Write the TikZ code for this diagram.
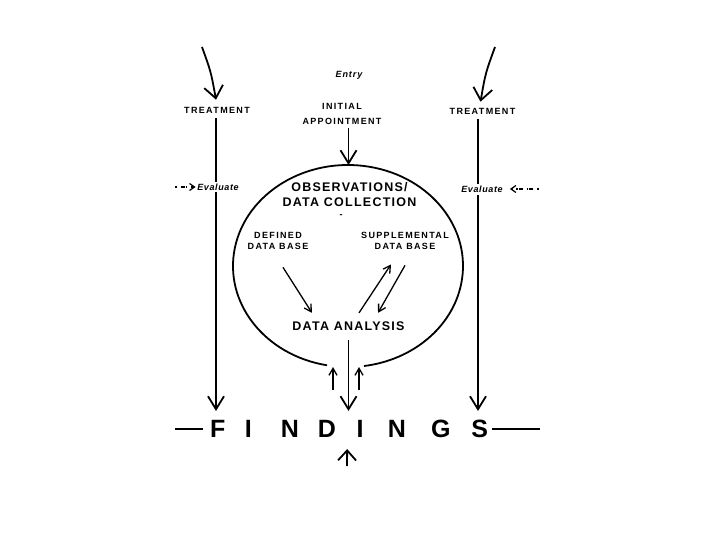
\documentclass[tikz,border=0pt]{standalone}
\usepackage{fontspec}
\setmainfont{Liberation Sans}
\newfontfamily\lsWide[LetterSpace=15]{Liberation Sans}
\newfontfamily\lsMid[LetterSpace=10]{Liberation Sans}
\newfontfamily\lsNarrow[LetterSpace=7]{Liberation Sans}
\usetikzlibrary{arrows.meta,calc}
\tikzset{
  lblsmall/.style={font=\lsWide\bfseries\fontsize{9}{11}\selectfont, align=center, inner sep=1pt},
  lblbig/.style={font=\lsMid\bfseries\fontsize{12.5}{15}\selectfont, align=center, inner sep=1pt},
  lblital/.style={font=\lsNarrow\bfseries\itshape\fontsize{9}{10}\selectfont, inner sep=2pt, fill=white},
  mainln/.style={line width=1.8pt},
  thinln/.style={line width=1.3pt},
  barbM/.style={-{Straight Barb[length=13pt,width=16pt]}},
  barbL/.style={-{Straight Barb[length=12pt,width=19pt]}},
  barbS/.style={-{Straight Barb[length=7pt,width=8pt]}},
  barbB/.style={-{Straight Barb[length=10pt,width=18pt]}},
  dotarrow/.style={line width=1.2pt, dash pattern=on 1.5pt off 4pt on 4pt off 1pt, -{Straight Barb[length=5pt,width=7pt]}},
}
\begin{document}
\begin{tikzpicture}[x=1pt,y=-1pt]
\useasboundingbox[fill=white] (0,0) rectangle (720,540);

% texts
\node[font=\lsMid\bfseries\itshape\fontsize{9}{11}\selectfont, inner sep=1pt] (entry) at (349,75.5) {Entry};
\node[lblsmall, font=\lsWide\bfseries\fontsize{9}{15}\selectfont] (init) at (342,113.5) {INITIAL\\APPOINTMENT};
\node[lblsmall] (treatL) at (217,110) {TREATMENT};
\node[lblsmall] (treatR) at (482.5,111) {TREATMENT};
\node[lblbig] (obs) at (349.5,195) {OBSERVATIONS/\\DATA COLLECTION};
\node[lblsmall] (dash) at (341,216) {-};
\node[lblsmall] (def) at (278,241) {DEFINED\\DATA BASE};
\node[lblsmall] (supp) at (405,241) {SUPPLEMENTAL\\DATA BASE};
\node[lblbig] (ana) at (348.5,326.5) {DATA ANALYSIS};
\node[font=\bfseries\fontsize{25}{25}\selectfont, inner sep=0pt, anchor=west] (fnd) at (210,429)
  {F\kern19.5pt I\kern29pt N\kern19pt D\kern20.5pt I\kern24.5pt N\kern25pt G\kern21pt S};

\coordinate (ctop) at (348.5,165);
\coordinate (tl) at (202,47);
\coordinate (tr) at (495,47);

% top curved arrows
\draw[mainln, barbL] (tl) .. controls (211,72) .. ($(treatL.north)+(-1,-6)$);
\draw[mainln, barbL] (tr) .. controls (485.5,73) .. ($(treatR.north)+(-2,-5)$);

% vertical treatment lines
\draw[mainln, barbM, shorten <=4pt, shorten >=9pt] ($(treatL.south)+(-1,0)$) -- ($(treatL.south |- fnd.north)+(-1,0)$);
\draw[mainln, barbM, shorten <=4pt, shorten >=9pt] ($(treatR.south)+(-4.5,0)$) -- ($(treatR.south |- fnd.north)+(-4.5,0)$);

% entry into circle
\draw[mainln, barbM, shorten <=3pt] (init.south -| ctop) -- (ctop);

% circle (open at bottom)
\draw[mainln] (327.04,365.3) arc[start angle=100.5, end angle=442, x radius=115, y radius=101];

% evaluate labels over lines
\node[lblital] (evL) at (218,187) {Evaluate};
\node[lblital] (evR) at (482,189.5) {Evaluate};
\draw[dotarrow] ($(evL.west)+(-20,0)$) -- ($(evL.west)+(0.5,0)$);
\draw[dotarrow] ($(evR.east)+(34,-0.5)$) -- ($(evR.east)+(5,-0.5)$);

% interior arrows
\draw[thinln, barbS] ($(def.south)+(5,16.5)$) -- ($(ana.north)+(-36.5,-8)$);
\draw[thinln, barbS] ($(ana.north)+(10.5,-8)$) -- ($(supp.south)+(-14,13.5)$);
\draw[thinln, barbS] ($(supp.south)+(0,14.5)$) -- ($(ana.north)+(29.5,-8)$);

% analysis to findings
\draw[mainln, barbM, shorten <=8pt, shorten >=9pt] (ana.south) -- (ana.south |- fnd.north);

% small up arrows
\coordinate (u1s) at (333,390);
\coordinate (u1e) at (333,367);
\coordinate (u2s) at (359,390);
\coordinate (u2e) at (359,367);
\draw[thinln, barbS] (u1s) -- (u1e);
\draw[thinln, barbS] (u2s) -- (u2e);

% bottom up arrow
\coordinate (bs) at (347,466);
\draw[mainln, barbB] (bs) -- ($(fnd.south)+(-2,11)$);

% findings side lines
\draw[mainln] ($(fnd.west)+(-7,0)$) -- ($(fnd.west)+(-35,0)$);
\draw[mainln] ($(fnd.east)+(4,0)$) -- ($(fnd.east)+(52,0)$);
\end{tikzpicture}
\end{document}
